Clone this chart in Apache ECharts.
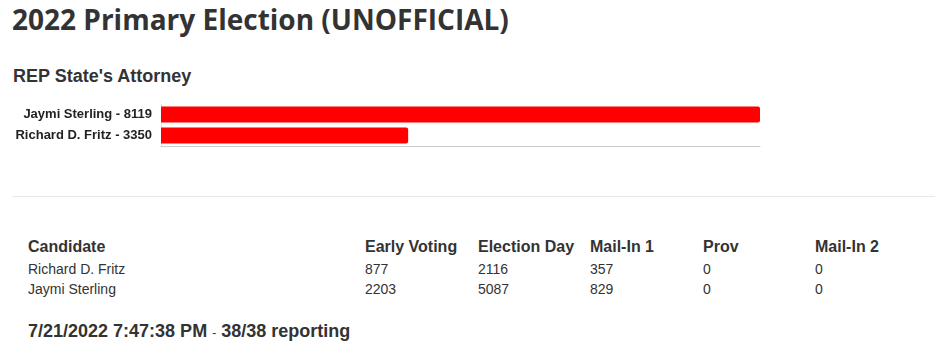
<!DOCTYPE html>
<html>
<head>
<meta charset="utf-8">
<script src="https://cdn.jsdelivr.net/npm/echarts@6/dist/echarts.min.js"></script>
<style>
  html, body { margin: 0; padding: 0; background: #fff; width: 935px; height: 358px; overflow: hidden; }
  .abs { position: absolute; white-space: nowrap; color: #333; }
  #title { left: 12px; top: 0px; font-family: "Open Sans", sans-serif; font-weight: 700; font-size: 28px; color: #333; }
  #race { left: 13px; top: 66px; font-family: "Liberation Sans", Arial, sans-serif; font-weight: bold; font-size: 18px; }
  #chart { position: absolute; left: 0; top: 95px; width: 935px; height: 60px; }
  #sep { position: absolute; left: 12px; top: 196px; width: 923px; height: 1px; background: #e8e8e8; }
  .th { font-family: "Liberation Sans", Arial, sans-serif; font-weight: bold; font-size: 16px; }
  .td { font-family: "Liberation Sans", Arial, sans-serif; font-size: 14px; }
  #foot { left: 28px; top: 321px; font-family: "Liberation Sans", Arial, sans-serif; font-weight: bold; font-size: 18px; }
  #foot .dash { font-weight: normal; font-size: 12px; }
</style>
</head>
<body>
<div id="title" class="abs">2022 Primary Election (UNOFFICIAL)</div>
<div id="race" class="abs">REP State's Attorney</div>
<div id="chart"></div>
<div id="sep"></div>
<div id="table"></div>
<div id="foot" class="abs">7/21/2022 7:47:38 PM <span class="dash">-</span> 38/38 reporting</div>
<script>
// Chart data (bar order top to bottom)
var candidates = ["Jaymi Sterling", "Richard D. Fritz"];
var totals = [8119, 3350];

// Table data
var tableHeaders = ["Candidate", "Early Voting", "Election Day", "Mail-In 1", "Prov", "Mail-In 2"];
var tableCandidates = ["Richard D. Fritz", "Jaymi Sterling"];
var earlyVoting = [877, 2203];
var electionDay = [2116, 5087];
var mailIn1 = [357, 829];
var prov = [0, 0];
var mailIn2 = [0, 0];

// Build table
(function () {
  var colX = [28, 365, 478, 590, 703, 815];
  var container = document.getElementById('table');
  tableHeaders.forEach(function (h, i) {
    var d = document.createElement('div');
    d.className = 'abs th';
    d.style.left = colX[i] + 'px';
    d.style.top = '238px';
    d.textContent = h;
    container.appendChild(d);
  });
  var cols = [tableCandidates, earlyVoting, electionDay, mailIn1, prov, mailIn2];
  for (var r = 0; r < tableCandidates.length; r++) {
    for (var c = 0; c < cols.length; c++) {
      var d = document.createElement('div');
      d.className = 'abs td';
      d.style.left = colX[c] + 'px';
      d.style.top = (261 + r * 20) + 'px';
      d.textContent = String(cols[c][r]);
      container.appendChild(d);
    }
  }
})();

var chart = echarts.init(document.getElementById('chart'), null, { renderer: 'canvas' });
chart.setOption({
  animation: false,
  grid: { left: 161, right: 175, top: 9, bottom: 9, containLabel: false },
  xAxis: {
    type: 'value', min: 0, max: 8119,
    axisLine: { show: true, lineStyle: { color: '#cccccc', width: 1 } },
    axisTick: { show: false }, axisLabel: { show: false }, splitLine: { show: false }
  },
  yAxis: {
    type: 'category', inverse: true,
    data: candidates,
    axisLine: { show: true, lineStyle: { color: '#e0e0e0', width: 1 } },
    axisTick: { show: false },
    axisLabel: {
      margin: 9,
      fontFamily: 'Liberation Sans, Arial, sans-serif', fontWeight: 'bold', fontSize: 13, color: '#222',
      formatter: function (v, i) { return v + ' - ' + totals[i]; }
    }
  },
  series: [{
    type: 'bar', data: totals, barWidth: 16,
    itemStyle: { color: '#ff0000', borderRadius: [0, 2, 2, 0] }
  }]
});
</script>
</body>
</html>
